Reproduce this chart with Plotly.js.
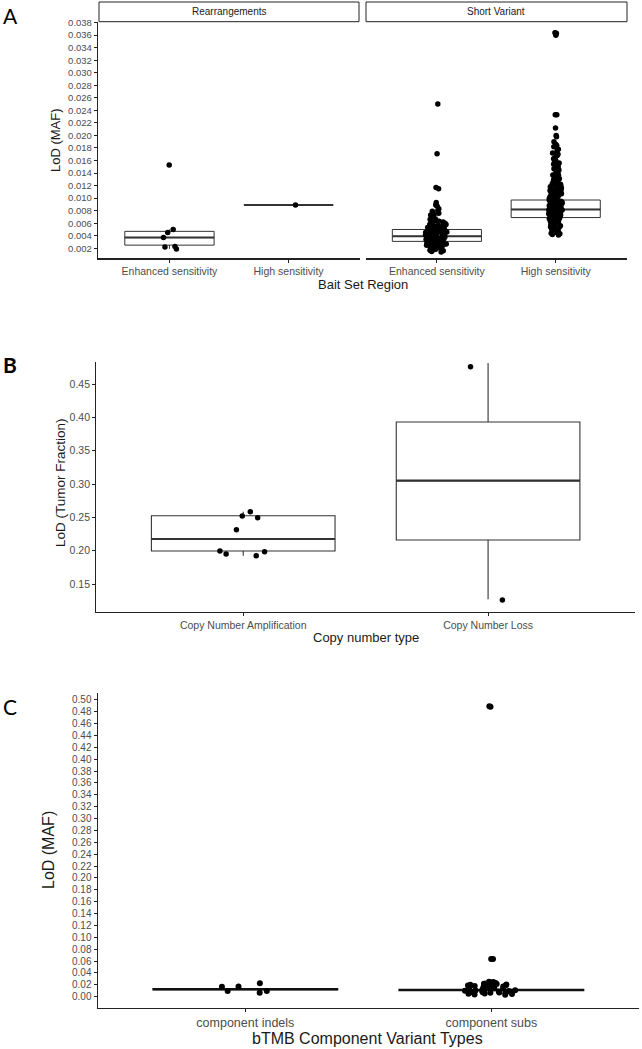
<!DOCTYPE html>
<html>
<head>
<meta charset="utf-8">
<script src="https://cdn.plot.ly/plotly-3.0.1.min.js"></script>
<style>
  html, body { margin: 0; padding: 0; background: #fff; }
  #chart { width: 642px; height: 1049px; }
</style>
</head>
<body>
<div id="chart"></div>
<script>
// ---- panel A: LoD (MAF) by bait set region, faceted
const aCats = ['Enhanced sensitivity', 'High sensitivity'];
const aFacets = ['Rearrangements', 'Short Variant'];
// box stats: [lowerfence, q1, median, q3, upperfence]
const rearrEnhBox = [0.0019, 0.0025, 0.0037, 0.0047, 0.0050];
const rearrHighBox = [0.0089, 0.0089, 0.0089, 0.0089, 0.0089];
const svEnhBox = [0.0014, 0.0031, 0.0039, 0.0050, 0.0076];
const svHighBox = [0.0041, 0.0069, 0.0082, 0.0097, 0.0140];
const rearrEnhPts = [0.0153, 0.0050, 0.0045, 0.0037, 0.0023, 0.0022, 0.0019];
const rearrHighPts = [0.0089];
const svEnhPts = [
  0.0250, 0.0171, 0.0117, 0.0115,
  0.0093, 0.0089, 0.0087, 0.0083, 0.0080, 0.0079, 0.0076, 0.0074, 0.0073, 0.0071, 0.0069,
  0.0068, 0.0066, 0.0066, 0.0064, 0.0063, 0.0062, 0.0061, 0.0060, 0.0059, 0.0058, 0.0058,
  0.0057, 0.0056, 0.0055, 0.0055, 0.0054, 0.0053, 0.0053, 0.0052, 0.0051, 0.0051, 0.0050,
  0.0049, 0.0049, 0.0048, 0.0048, 0.0047, 0.0046, 0.0046, 0.0045, 0.0045, 0.0044, 0.0044,
  0.0043, 0.0043, 0.0042, 0.0042, 0.0041, 0.0041, 0.0040, 0.0040, 0.0039, 0.0039, 0.0038,
  0.0038, 0.0037, 0.0037, 0.0036, 0.0036, 0.0035, 0.0035, 0.0034, 0.0034, 0.0033, 0.0033,
  0.0032, 0.0032, 0.0031, 0.0031, 0.0030, 0.0030, 0.0029, 0.0029, 0.0028, 0.0028, 0.0027,
  0.0027, 0.0026, 0.0025, 0.0025, 0.0024, 0.0023, 0.0023, 0.0022, 0.0021, 0.0020, 0.0019,
  0.0018, 0.0017, 0.0016, 0.0015, 0.0014
];
const svHighPts = [
  0.0364, 0.0363, 0.0360, 0.0233, 0.0233, 0.0212, 0.0200, 0.0198, 0.0190, 0.0186,
  0.0184, 0.0182, 0.0178, 0.0175, 0.0172, 0.0170, 0.0168, 0.0165, 0.0163, 0.0160,
  0.0158, 0.0156, 0.0154, 0.0152, 0.0150, 0.0148, 0.0147, 0.0145, 0.0143, 0.0142,
  0.0140, 0.0139, 0.0137, 0.0136, 0.0135, 0.0133, 0.0132, 0.0131, 0.0130, 0.0128,
  0.0127, 0.0126, 0.0125, 0.0124, 0.0123, 0.0122, 0.0121, 0.0120, 0.0119, 0.0118,
  0.0117, 0.0116, 0.0116, 0.0115, 0.0114, 0.0113, 0.0112, 0.0112, 0.0111, 0.0110,
  0.0109, 0.0109, 0.0108, 0.0107, 0.0106, 0.0106, 0.0105, 0.0104, 0.0103, 0.0103,
  0.0102, 0.0101, 0.0100, 0.0100, 0.0099, 0.0098, 0.0098, 0.0097, 0.0096, 0.0096,
  0.0095, 0.0094, 0.0094, 0.0093, 0.0092, 0.0092, 0.0091, 0.0090, 0.0090, 0.0089,
  0.0089, 0.0088, 0.0087, 0.0087, 0.0086, 0.0086, 0.0085, 0.0084, 0.0084, 0.0083,
  0.0083, 0.0082, 0.0082, 0.0081, 0.0081, 0.0080, 0.0079, 0.0079, 0.0078, 0.0078,
  0.0077, 0.0077, 0.0076, 0.0075, 0.0075, 0.0074, 0.0074, 0.0073, 0.0073, 0.0072,
  0.0071, 0.0071, 0.0070, 0.0070, 0.0069, 0.0068, 0.0068, 0.0067, 0.0066, 0.0066,
  0.0065, 0.0064, 0.0064, 0.0063, 0.0062, 0.0061, 0.0061, 0.0060, 0.0059, 0.0058,
  0.0057, 0.0056, 0.0055, 0.0054, 0.0053, 0.0052, 0.0051, 0.0050, 0.0049, 0.0048,
  0.0047, 0.0046, 0.0045, 0.0044, 0.0043, 0.0042, 0.0041
];

// ---- panel B: LoD (tumor fraction) by copy number type
const bCats = ['Copy Number Amplification', 'Copy Number Loss'];
const ampBox = [0.1925, 0.1995, 0.2175, 0.2525, 0.2585];
const lossBox = [0.127, 0.216, 0.305, 0.393, 0.4815];
const ampPts = [0.2585, 0.2520, 0.2495, 0.2315, 0.1995, 0.1985, 0.1950, 0.1925];
const lossPts = [0.476, 0.126];

// ---- panel C: LoD (MAF) by bTMB component variant type
const cCats = ['component indels', 'component subs'];
const indelBox = [0.0125, 0.0115, 0.0125, 0.0135, 0.0135];
const subsBox = [0.0113, 0.0103, 0.0113, 0.0123, 0.0123];
const indelPts = [0.0096, 0.0226, 0.0170, 0.0096, 0.0168, 0.0067];
const subsPts = [
  0.4890, 0.4885, 0.0636, 0.0634,
  0.0251, 0.0246, 0.0237, 0.0233, 0.0224, 0.0219, 0.0214, 0.0205, 0.0201, 0.0193,
  0.0189, 0.0181, 0.0177, 0.0170, 0.0166, 0.0158, 0.0155, 0.0149, 0.0142, 0.0139,
  0.0131, 0.0127, 0.0121, 0.0116, 0.0110, 0.0106, 0.0101, 0.0096, 0.0090, 0.0086,
  0.0080, 0.0075, 0.0071, 0.0066, 0.0060, 0.0055, 0.0049, 0.0044, 0.0039, 0.0033
];

const W = 642, H = 1049;
const px = (x) => x / W;
const py = (y) => 1 - y / H;
const FONT = 'Liberation Sans, Arial, sans-serif';
const LINE = '#333333';

// box outline + thick median + jittered points, like ggplot boxplot + jitter
function boxTraces(cat, box, pts, xa, ya, o) {
  const base = {
    type: 'box', xaxis: xa, yaxis: ya, width: 0.75, whiskerwidth: 0,
    hoverinfo: 'skip', showlegend: false
  };
  return [
    {...base, x: [cat], lowerfence: [box[0]], q1: [box[1]], median: [box[2]],
      q3: [box[3]], upperfence: [box[4]], boxpoints: false,
      line: {color: o.color, width: o.lw}, fillcolor: 'white'},
    {...base, x: [cat], lowerfence: [box[2]], q1: [box[2]], median: [box[2]],
      q3: [box[2]], upperfence: [box[2]], boxpoints: false,
      line: {color: o.color, width: o.mw}, fillcolor: 'rgba(0,0,0,0)'},
    {...base, x: pts.map(() => cat), y: pts, boxpoints: 'all', jitter: o.jitter,
      pointpos: 0, line: {width: 0}, fillcolor: 'rgba(0,0,0,0)',
      marker: {color: 'black', size: o.ms}}
  ];
}

const optA = {color: LINE, lw: 1, mw: 2, jitter: 0.3, ms: 5.5};
const optB = {color: LINE, lw: 1.1, mw: 2.2, jitter: 0.3, ms: 5.5};
const optC = {color: '#111', lw: 1.4, mw: 2, jitter: 0.3, ms: 6};

const data = [
  ...boxTraces(aCats[0], rearrEnhBox, rearrEnhPts, 'x', 'y', optA),
  ...boxTraces(aCats[1], rearrHighBox, rearrHighPts, 'x', 'y', {...optA, lw: 1.3, mw: 2.2}),
  ...boxTraces(aCats[0], svEnhBox, svEnhPts, 'x2', 'y', {...optA, jitter: 0.26}),
  ...boxTraces(aCats[1], svHighBox, svHighPts, 'x2', 'y', {...optA, jitter: 0.16}),
  ...boxTraces(bCats[0], ampBox, ampPts, 'x3', 'y2', optB),
  ...boxTraces(bCats[1], lossBox, lossPts, 'x3', 'y2', optB),
  ...boxTraces(cCats[0], indelBox, indelPts, 'x4', 'y3', optC),
  ...boxTraces(cCats[1], subsBox, subsPts, 'x4', 'y3', optC)
];

function xCat(domain, anchor, cats, fs) {
  return {
    domain, anchor, type: 'category', categoryorder: 'array', categoryarray: cats,
    range: [-0.6, 1.6], showline: true, linecolor: '#222', linewidth: 1.2,
    ticks: 'outside', ticklen: 3, tickcolor: '#222', tickwidth: 1,
    tickfont: {family: FONT, size: fs, color: '#4d4d4d'},
    showgrid: false, zeroline: false, fixedrange: true
  };
}
function yLin(domain, anchor, range, dtick, fmt, fs) {
  return {
    domain, anchor, range, tick0: 0, dtick, tickformat: fmt,
    showline: true, linecolor: '#222', linewidth: 1.2,
    ticks: 'outside', ticklen: 3, tickcolor: '#222', tickwidth: 1,
    tickfont: {family: FONT, size: fs, color: '#4d4d4d'},
    showgrid: false, zeroline: false, fixedrange: true
  };
}

const title = (text, x, y, size, angle) => ({
  text, x: px(x), y: py(y), xref: 'paper', yref: 'paper', showarrow: false,
  xanchor: 'center', yanchor: 'middle', textangle: angle || 0,
  font: {family: FONT, size, color: '#1a1a1a'}
});
const panelLabel = (text, x, y, bold) => ({
  text: bold ? '<b>' + text + '</b>' : text, x: px(x), y: py(y),
  xref: 'paper', yref: 'paper', showarrow: false, xanchor: 'center', yanchor: 'middle',
  font: {family: 'Lato, Open Sans, sans-serif', size: 21, color: '#000'}
});
const strip = (x0, x1) => ({
  type: 'rect', xref: 'paper', yref: 'paper', x0: px(x0), x1: px(x1),
  y0: py(21.7), y1: py(2), line: {color: '#222', width: 1}, fillcolor: 'white'
});

const layout = {
  width: W, height: H, margin: {l: 0, r: 0, t: 0, b: 0},
  paper_bgcolor: 'white', plot_bgcolor: 'white', showlegend: false,
  boxmode: 'overlay',
  xaxis: xCat([px(98), px(360)], 'y', aCats, 10.5),
  xaxis2: xCat([px(365.6), px(627)], 'y', aCats, 10.5),
  yaxis: yLin([py(258.3), py(22)], 'x', [0.0004, 0.0381], 0.002, '.3f', 9.5),
  xaxis3: xCat([px(96.3), px(635)], 'y2', bCats, 10.5),
  yaxis2: yLin([py(611.7), py(362)], 'x3', [0.1085, 0.483], 0.05, '.2f', 10.5),
  xaxis4: xCat([px(97.7), px(639)], 'y3', cCats, 12.5),
  yaxis3: yLin([py(1007.7), py(692.7)], 'x4', [-0.0185, 0.512], 0.02, '.2f', 10),
  shapes: [strip(99, 359), strip(366, 627)],
  annotations: [
    title(aFacets[0], 229, 11.8, 10),
    title(aFacets[1], 496.5, 11.8, 10),
    title('LoD (MAF)', 56, 140, 13, -90),
    title('Bait Set Region', 363, 284, 13),
    title('LoD (Tumor Fraction)', 60, 483, 13.5, -90),
    title('Copy number type', 366, 637, 13),
    title('LoD (MAF)', 48, 850, 16, -90),
    title('bTMB Component Variant Types', 368, 1038, 16),
    panelLabel('A', 10, 15, false),
    panelLabel('B', 10, 365, true),
    panelLabel('C', 10, 706, false)
  ]
};

Plotly.newPlot('chart', data, layout, {staticPlot: true});
</script>
</body>
</html>
